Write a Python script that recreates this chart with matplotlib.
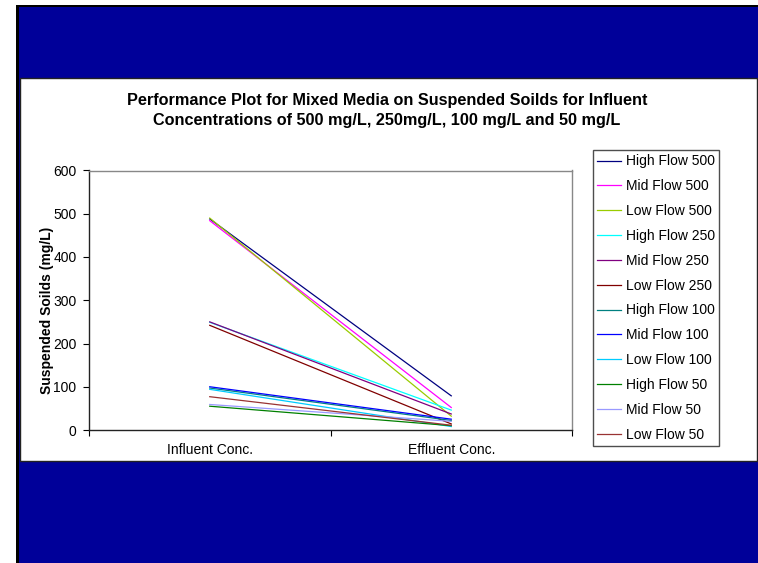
import matplotlib
matplotlib.use("Agg")
import matplotlib.pyplot as plt
from matplotlib.patches import Rectangle

plt.rcParams['font.family'] = ['Liberation Sans', 'DejaVu Sans']

# suspended solids readings per flow run (mg/L)
series = ["High Flow 500", "Mid Flow 500", "Low Flow 500",
          "High Flow 250", "Mid Flow 250", "Low Flow 250",
          "High Flow 100", "Mid Flow 100", "Low Flow 100",
          "High Flow 50", "Mid Flow 50", "Low Flow 50"]
influent = [488, 484, 490, 249, 250, 242, 97, 100, 94, 55, 59, 77]
effluent = [79, 52, 32, 46, 37, 14, 22, 25, 8, 10, 20, 11]
categories = ["Influent Conc.", "Effluent Conc."]
yticks = [0, 100, 200, 300, 400, 500, 600]

colors = ["#000080", "#FF00FF", "#99CC00", "#00FFFF", "#800080", "#800000",
          "#008080", "#0000FF", "#00CCFF", "#008000", "#9999FF", "#993333"]

W, H = 758, 563
fig = plt.figure(figsize=(W / 100, H / 100), dpi=100)

# slide background: black frame, blue bands, white chart area
bg = fig.add_axes([0, 0, 1, 1], zorder=0)
bg.set_xlim(0, W)
bg.set_ylim(H, 0)
bg.axis("off")
bg.add_patch(Rectangle((16, 5), W - 16, H - 5, facecolor="black", edgecolor="none"))
bg.add_patch(Rectangle((19, 7), W - 19, H - 7, facecolor="#000099", edgecolor="none"))
bg.add_patch(Rectangle((20, 78), W - 21, 383, facecolor="white",
                       edgecolor="#222222", linewidth=1))

ax = fig.add_axes([89 / W, 1 - 430 / H, (572 - 89) / W, (430 - 170.5) / H], zorder=1)
ax.set_facecolor("white")

x = [0, 1]
for name, yi, ye, c in zip(series, influent, effluent, colors):
    ax.plot(x, [yi, ye], color=c, linewidth=0.9, label=name)

ax.set_xlim(-0.5, 1.5)
ax.set_ylim(0, 600)
ax.set_yticks(yticks)
ax.set_xticks([-0.5, 0.5, 1.5])
ax.set_xticklabels([])
ax.set_xticks(x, minor=True)
ax.set_xticklabels(categories, minor=True)
ax.tick_params(axis="x", which="minor", length=0, pad=9, labelsize=10)
ax.tick_params(axis="x", which="major", direction="out", length=4, width=0.8)
ax.tick_params(axis="y", direction="out", length=4, width=0.8, pad=5, labelsize=10)

for side in ("top", "right"):
    ax.spines[side].set_color("#888888")
    ax.spines[side].set_linewidth(1)
for side in ("left", "bottom"):
    ax.spines[side].set_color("#222222")
    ax.spines[side].set_linewidth(1)

ax.set_ylabel("Suspended Soilds (mg/L)", fontsize=10, fontweight="bold")
ax.yaxis.set_label_coords(-0.072, 0.46)

fig.text(387 / W, 1 - 101 / H,
         "Performance Plot for Mixed Media on Suspended Soilds for Influent",
         ha="center", va="center", fontsize=11.7, fontweight="bold")
fig.text(387 / W, 1 - 120 / H,
         "Concentrations of 500 mg/L, 250mg/L, 100 mg/L and 50 mg/L",
         ha="center", va="center", fontsize=11.7, fontweight="bold")

leg = fig.legend(loc="upper left", bbox_to_anchor=(593 / W, 1 - 150 / H),
                 fontsize=10, frameon=True, fancybox=False, handlelength=1.7,
                 handletextpad=0.32, labelspacing=0.78, borderpad=0.32,
                 borderaxespad=0)
leg.get_frame().set_edgecolor("#222222")
leg.get_frame().set_linewidth(1)
leg.set_zorder(2)

fig.savefig("out.png", dpi=100)
